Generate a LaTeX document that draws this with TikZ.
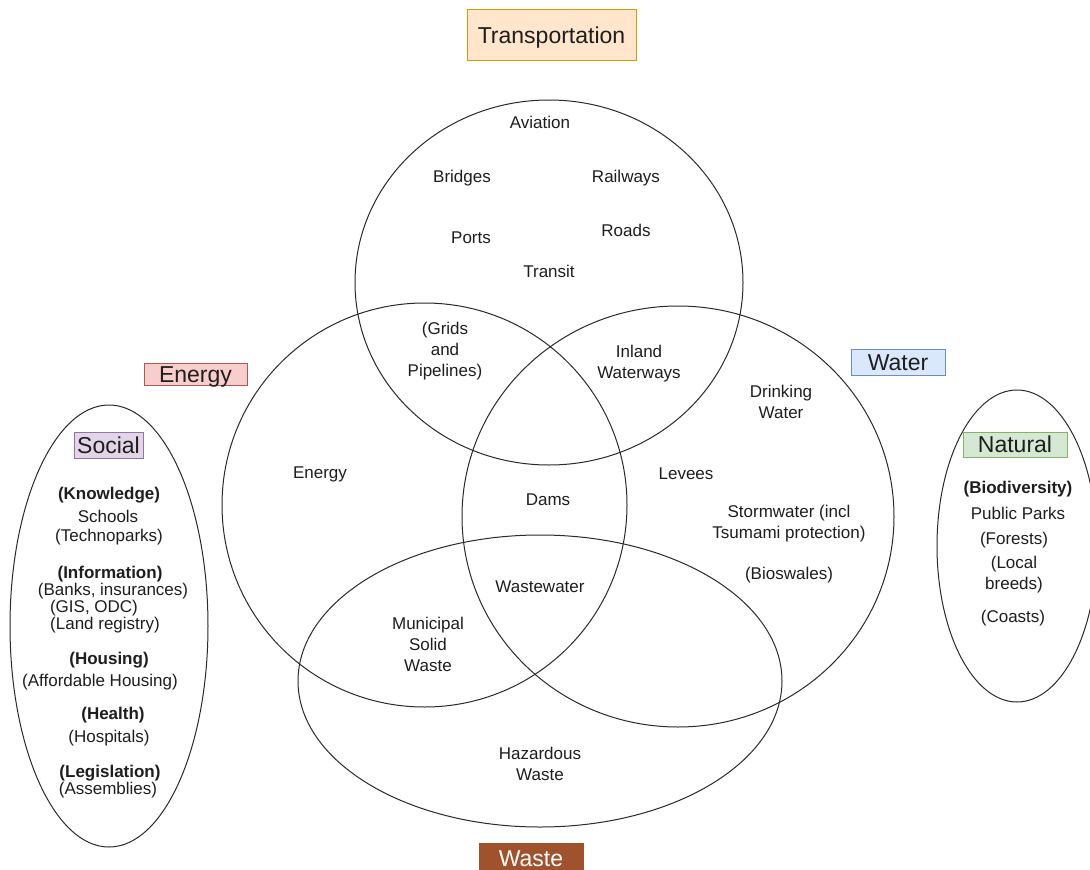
\documentclass[tikz,border=0pt]{standalone}
\usepackage{fontspec}
\setmainfont{Liberation Sans}
\usetikzlibrary{shapes.geometric}
\definecolor{txt}{HTML}{1E1E1E}
\definecolor{ln}{HTML}{2A2A2A}
\definecolor{orfill}{HTML}{FFE6CC}\definecolor{ordraw}{HTML}{D79B00}
\definecolor{rdfill}{HTML}{F8CECC}\definecolor{rddraw}{HTML}{B85450}
\definecolor{blfill}{HTML}{DAE8FC}\definecolor{bldraw}{HTML}{6C8EBF}
\definecolor{pufill}{HTML}{E1D5E7}\definecolor{pudraw}{HTML}{9673A6}
\definecolor{gnfill}{HTML}{D5E8D4}\definecolor{gndraw}{HTML}{82B366}
\definecolor{wsfill}{HTML}{A0522D}
\tikzset{
  setshape/.style={ellipse, draw=ln, line width=1pt, inner sep=0pt},
  tx/.style={text=txt, font=\fontsize{17}{21}\selectfont, align=center, inner sep=0pt},
  txb/.style={tx, font=\fontsize{17}{21}\selectfont\bfseries},
  lab/.style={draw, line width=1pt, inner sep=0pt, text=txt, font=\fontsize{23}{26}\selectfont, text height=16.5pt, text depth=0pt},
}
\begin{document}
\begin{tikzpicture}[x=1pt,y=-1pt]
\useasboundingbox (0,0) rectangle (1090,870);
\fill[white] (0,0) rectangle (1090,870);
% sets
\node[setshape, minimum width=388pt, minimum height=365pt] (trans) at (549,282.5) {};
\node[setshape, minimum width=405pt, minimum height=404pt] (energy) at (424.5,505) {};
\node[setshape, minimum width=432pt, minimum height=421pt] (water) at (678,516.5) {};
\node[setshape, minimum width=484pt, minimum height=292pt] (waste) at (540,681) {};
\node[setshape, minimum width=198pt, minimum height=442pt] (social) at (109,626) {};
\node[setshape, minimum width=160pt, minimum height=312pt] (natural) at (1017,546) {};
% labels
\node[lab, fill=orfill, draw=ordraw, minimum width=169pt, minimum height=51pt] (ltrans) at (551.5,35) {Transportation};
\node[lab, fill=rdfill, draw=rddraw, minimum width=103pt, minimum height=22pt] (lenergy) at (195.5,374) {Energy};
\node[lab, fill=blfill, draw=bldraw, minimum width=94pt, minimum height=26pt] (lwater) at (898,362) {Water};
\node[lab, fill=wsfill, draw=wsfill, text=white, minimum width=104pt, minimum height=30pt] (lwaste) at (531,858) {Waste};
\node[lab, fill=pufill, draw=pudraw, minimum width=69pt, minimum height=26pt] (lsocial) at (108.5,445) {Social};
\node[lab, fill=gnfill, draw=gndraw, minimum width=104pt, minimum height=25pt] (lnatural) at (1015,444.5) {Natural};
% transportation
\node[tx] (aviation) at (540,122) {Aviation};
\node[tx] (bridges) at (462,178) {Bridges};
\node[tx] (railways) at (626,178) {Railways};
\node[tx] (ports) at (471,238) {Ports};
\node[tx] (roads) at (626,230) {Roads};
\node[tx] (transit) at (549,271) {Transit};
\node[tx] (grids) at (445,351) {(Grids\\and\\Pipelines)};
\node[tx] (inland) at (639,364) {Inland\\Waterways};
\node[tx] (drinking) at (781,402) {Drinking\\Water};
\node[tx] (energytx) at (320,474) {Energy};
\node[tx] (levees) at (686,474) {Levees};
\node[tx] (dams) at (548,500) {Dams};
\node[tx] (storm) at (789,524) {Stormwater (incl\\Tsumami protection)};
\node[tx] (bioswales) at (789,575) {(Bioswales)};
\node[tx] (wastewater) at (540,587) {Wastewater};
\node[tx] (msw) at (428,644) {Municipal\\Solid\\Waste};
\node[tx] (hazard) at (540,764) {Hazardous\\Waste};
% social
\node[txb] (s1) at (109,495) {(Knowledge)};
\node[tx] (s2) at (108,516) {Schools};
\node[tx] (s3) at (109,537) {(Technoparks)};
\node[txb] (s4) at (110,574) {(Information)};
\node[tx] (s5) at (113,591) {(Banks, insurances)};
\node[tx] (s6) at (94,608) {(GIS, ODC)};
\node[tx] (s7) at (105,625) {(Land registry)};
\node[txb] (s8) at (109,660) {(Housing)};
\node[tx] (s9) at (100,682) {(Affordable Housing)};
\node[txb] (s10) at (113,715) {(Health)};
\node[tx] (s11) at (109,738) {(Hospitals)};
\node[txb] (s12) at (110,773) {(Legislation)};
\node[tx] (s13) at (108,790) {(Assemblies)};
% natural
\node[txb] (n1) at (1018,489) {(Biodiversity)};
\node[tx] (n2) at (1018,513) {Public Parks};
\node[tx] (n3) at (1014,540) {(Forests)};
\node[tx] (n4) at (1014,575) {(Local\\breeds)};
\node[tx] (n5) at (1013,618) {(Coasts)};
\end{tikzpicture}
\end{document}
